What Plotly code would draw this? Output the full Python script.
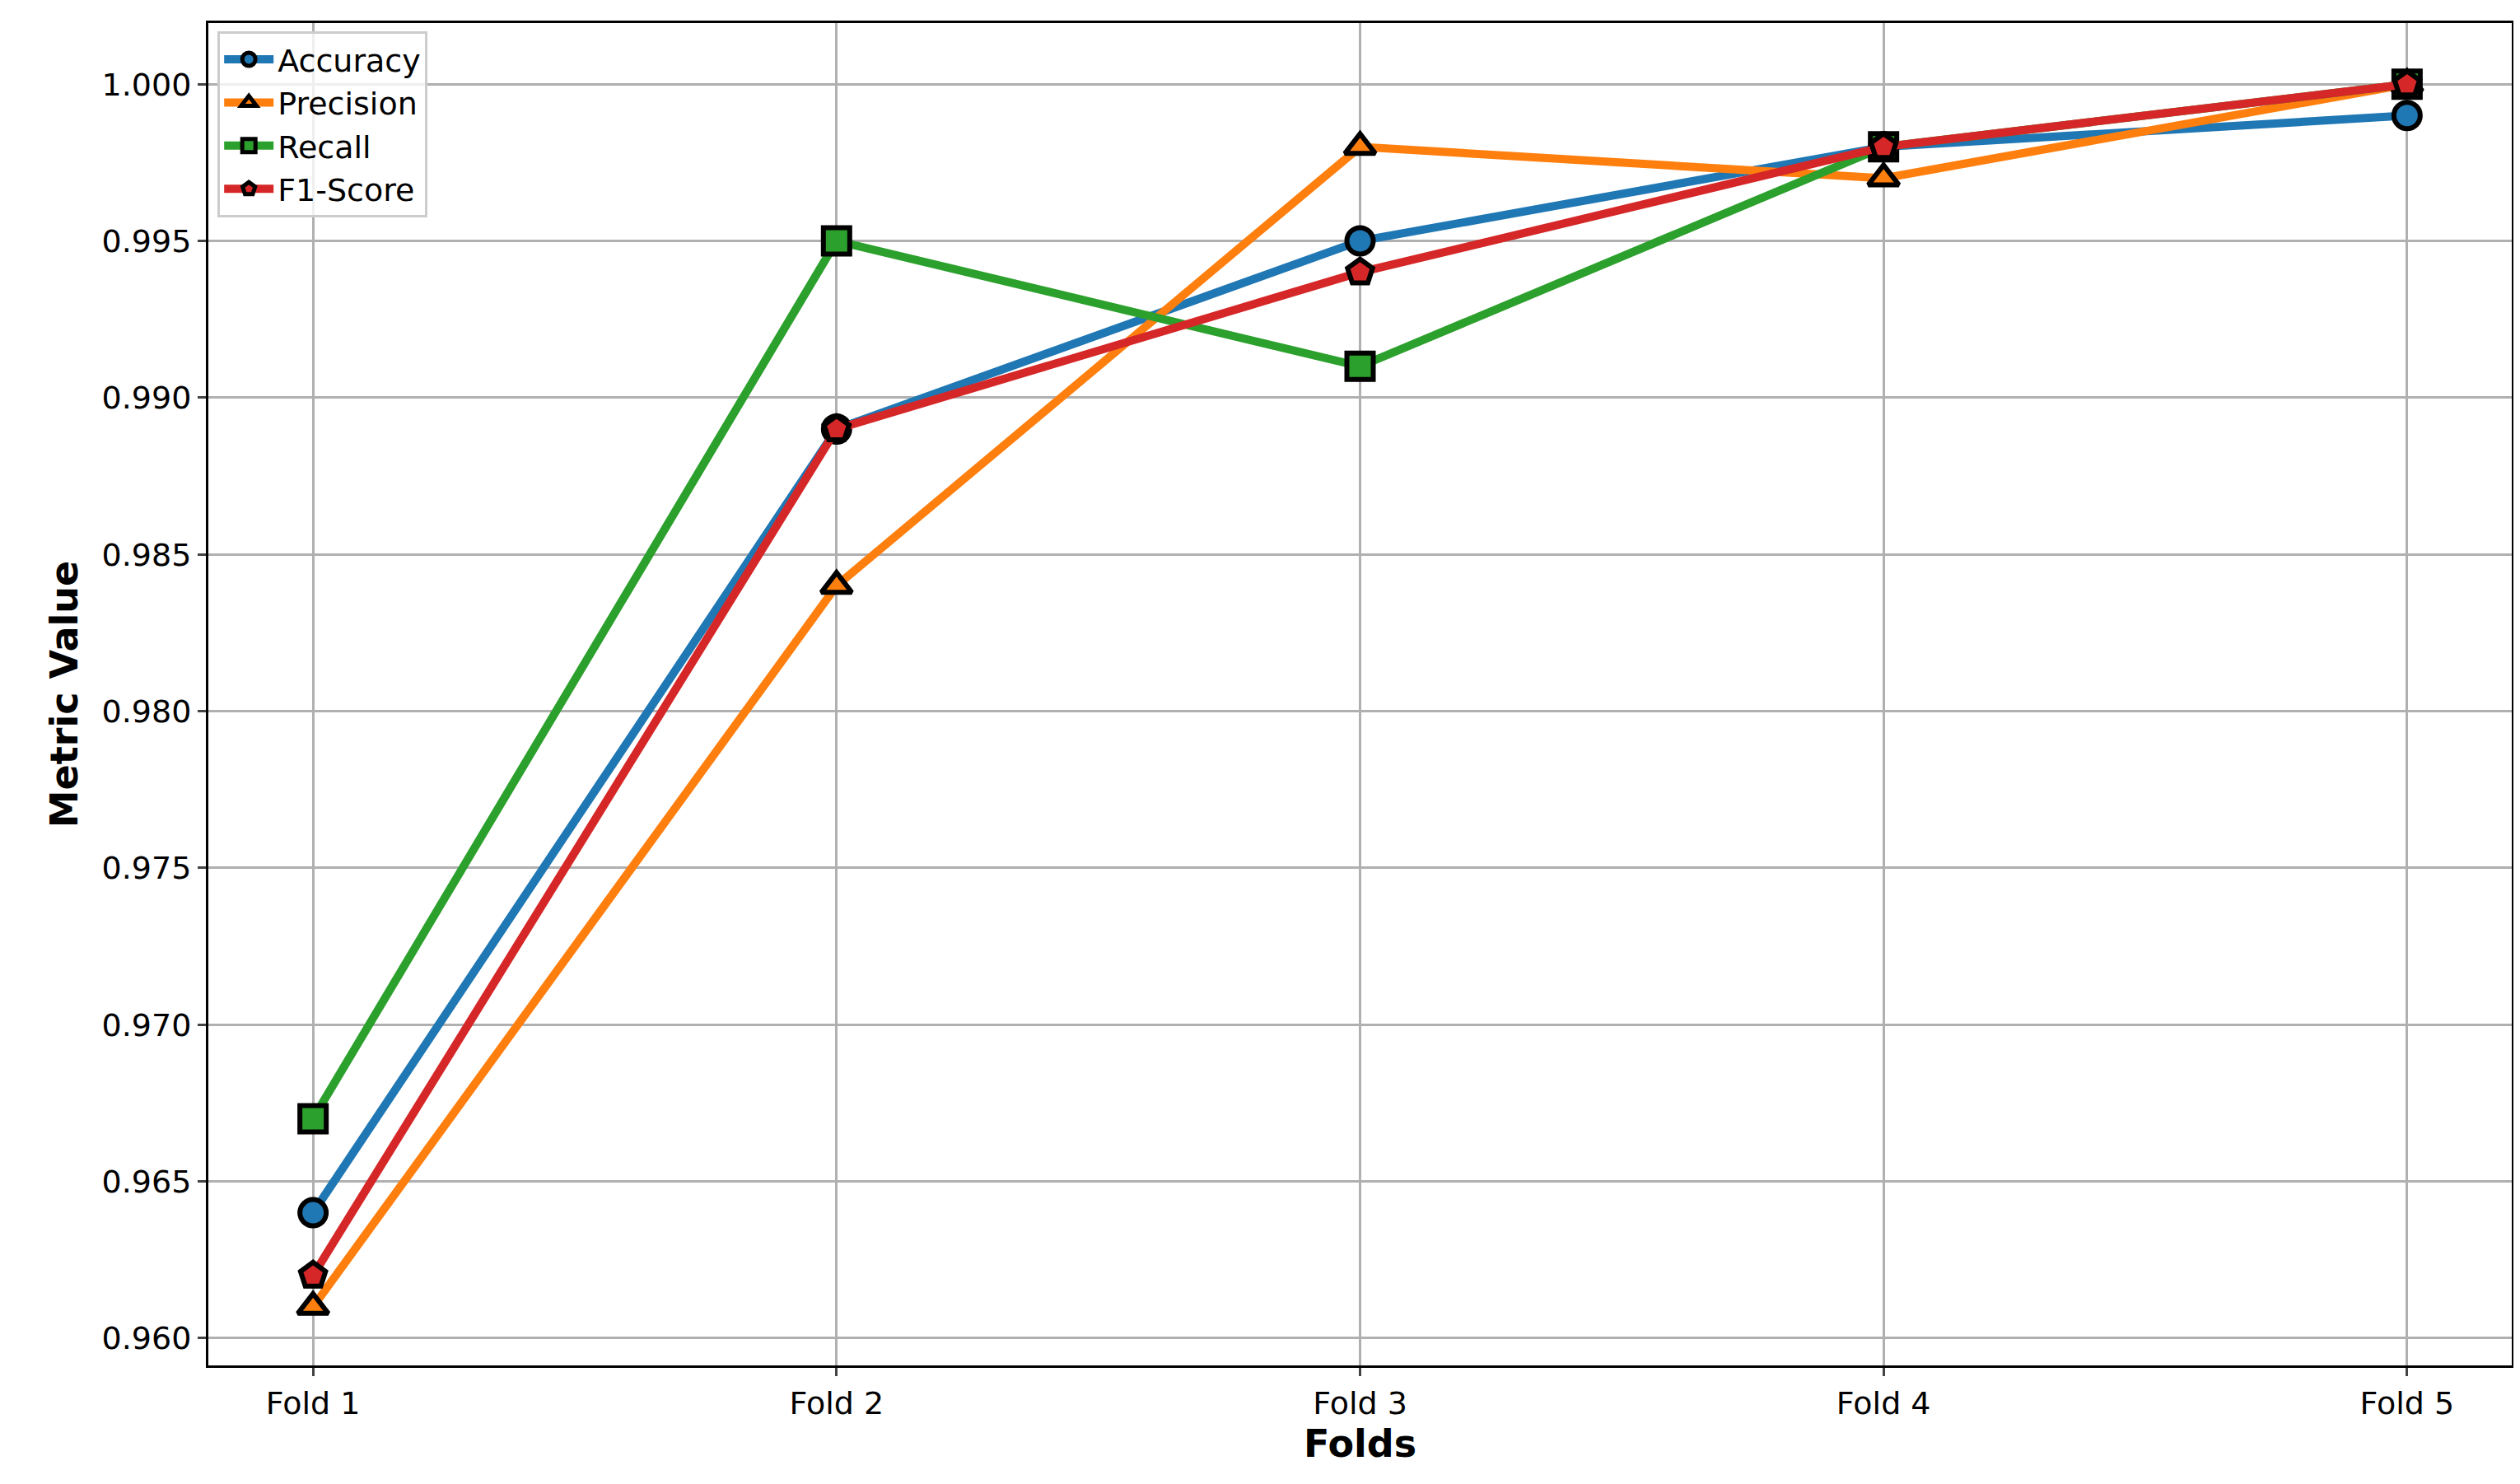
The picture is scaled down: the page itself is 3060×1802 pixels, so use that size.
import plotly.graph_objects as go

folds = ["Fold 1", "Fold 2", "Fold 3", "Fold 4", "Fold 5"]
accuracy = [0.964, 0.989, 0.995, 0.998, 0.999]
precision = [0.961, 0.984, 0.998, 0.997, 1.000]
recall = [0.967, 0.995, 0.991, 0.998, 1.000]
f1 = [0.962, 0.989, 0.994, 0.998, 1.000]

series = [
    ("Accuracy", accuracy, "#1f77b4", "circle"),
    ("Precision", precision, "#ff7f0e", "triangle-up"),
    ("Recall", recall, "#2ca02c", "square"),
    ("F1-Score", f1, "#d62728", "pentagon"),
]

fig = go.Figure()
for name, vals, col, sym in series:
    fig.add_trace(go.Scatter(
        x=list(range(len(folds))), y=vals, name=name, mode="lines+markers",
        line=dict(color=col, width=10),
        marker=dict(symbol=sym, size=32, color=col, line=dict(color="black", width=6)),
    ))

fig.update_layout(
    width=3060, height=1802, paper_bgcolor="white", plot_bgcolor="white",
    margin=dict(l=245, r=18, t=20, b=152),
    font=dict(family="DejaVu Sans", size=38, color="black"),
    showlegend=True,
    legend=dict(x=0.004, y=0.994, xanchor="left", yanchor="top",
                bgcolor="rgba(255,255,255,0.8)", bordercolor="#cccccc", borderwidth=3,
                font=dict(size=38), itemwidth=60, tracegroupgap=0),
)
fig.update_xaxes(
    range=[-0.2, 4.2], tickmode="array", tickvals=list(range(len(folds))), ticktext=folds,
    showgrid=True, gridcolor="#b0b0b0", gridwidth=3, zeroline=False,
    showline=True, linecolor="black", linewidth=3, mirror=True,
    ticks="outside", ticklen=10, tickwidth=3,
    title=dict(text="<b>Folds</b>", font=dict(size=46), standoff=10),
)
fig.update_yaxes(
    range=[0.95913, 1.00195], tickvals=[0.96 + 0.005 * i for i in range(9)], tickformat=".3f",
    showgrid=True, gridcolor="#b0b0b0", gridwidth=3, zeroline=False,
    showline=True, linecolor="black", linewidth=3, mirror=True,
    ticks="outside", ticklen=10, tickwidth=3,
    title=dict(text="<b>Metric Value</b>", font=dict(size=46), standoff=15),
)
fig.write_html("out.html")
